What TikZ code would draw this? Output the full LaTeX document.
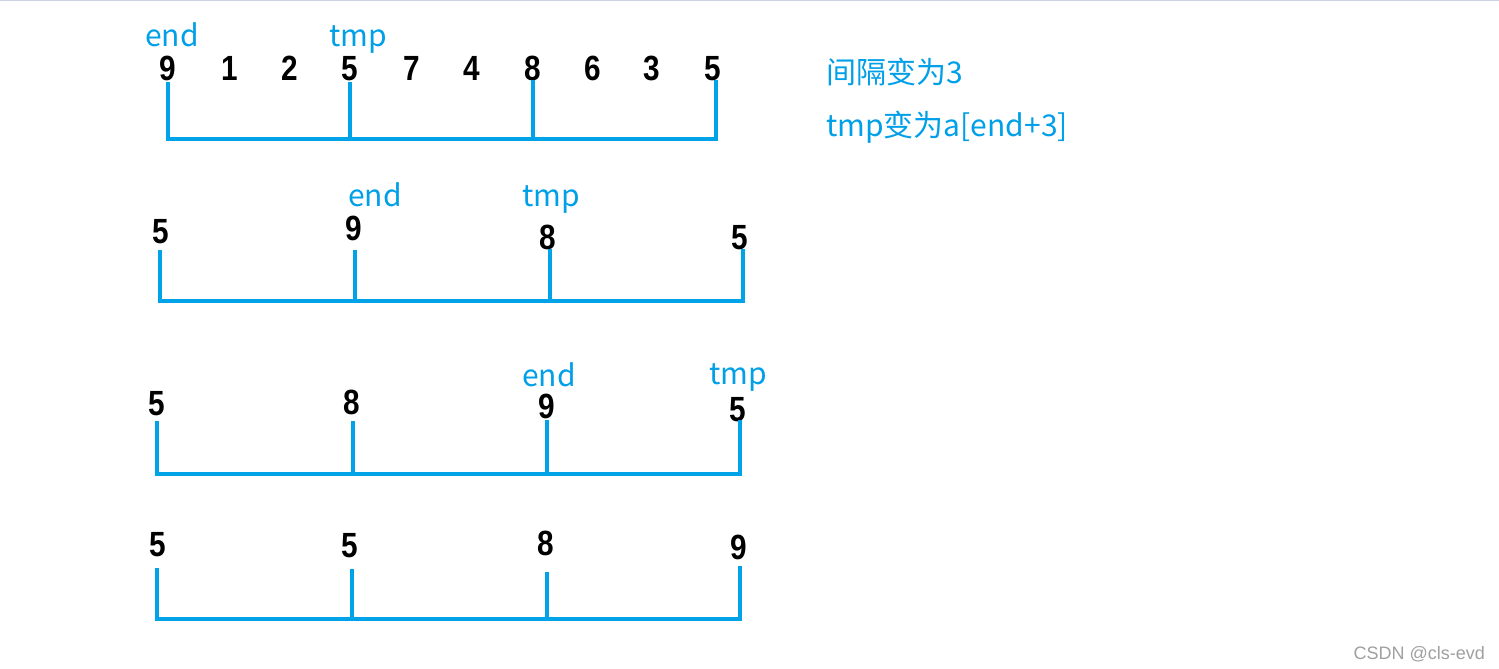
\documentclass[tikz,border=0pt]{standalone}
\usepackage{fontspec}
\newfontfamily\digf{Liberation Sans}[FakeStretch=0.85]
\newfontfamily\cjk{Noto Sans CJK SC}
\newfontfamily\wmf{Liberation Sans}
\definecolor{pblue}{RGB}{0,162,232}
\definecolor{lblue}{RGB}{0,160,232}
\definecolor{topline}{RGB}{200,212,228}
\definecolor{wmgray}{RGB}{160,160,160}
\begin{document}
\begin{tikzpicture}[x=1pt,y=-1pt,
  dig/.style={anchor=base,inner sep=0pt,font=\digf\bfseries\fontsize{35}{35}\selectfont},
  lab/.style={anchor=base,inner sep=0pt,text=lblue,font=\cjk\fontsize{30}{30}\selectfont},
  bar/.style={draw=pblue,line width=4pt,line join=miter},
]
\useasboundingbox (0,0) rectangle (1499,669);
\fill[white] (0,0) rectangle (1499,669);
\coordinate (tl) at (0,0.75);
\coordinate (tr) at (1499,0.75);
\draw[topline,line width=1.5pt] (tl) -- (tr);

% ---------- row 1 ----------
\foreach \n/\x/\v in {1/168/9,2/230/1,3/290/2,4/350/5,5/412/7,6/472/4,7/533/8,8/593/6,9/652/3,10/713/5}
  \node[dig] (a\n) at (\x,81) {\v};
\node[lab] (aend) at (172,47) {end};
\node[lab] (atmp) at (358,47) {tmp};
\coordinate (a1t) at (168,82);  \coordinate (a1b) at (168,139);
\coordinate (a4t) at (350,82);  \coordinate (a4b) at (350,139);
\coordinate (a7t) at (533,80);  \coordinate (a7b) at (533,139);
\coordinate (a10t) at (716,80); \coordinate (a10b) at (716,139);
\draw[bar] (a1t) -- (a1b) -- (a10b) -- (a10t);
\draw[bar] (a4t) -- (a4b);
\draw[bar] (a7t) -- (a7b);

% ---------- right text ----------
\node[lab,anchor=base west] (t1) at (826,84) {间隔变为3};
\node[lab,anchor=base west] (t2) at (826,136) {tmp变为a[end+3]};

% ---------- row 2 ----------
\node[dig] (b1) at (161,243) {5};
\node[dig] (b2) at (354,240) {9};
\node[dig] (b3) at (548,249) {8};
\node[dig] (b4) at (740,249) {5};
\node[lab] (bend) at (375,206) {end};
\node[lab] (btmp) at (551,206) {tmp};
\coordinate (b1t) at (160,250); \coordinate (b1b) at (160,301);
\coordinate (b2t) at (355,250); \coordinate (b2b) at (355,301);
\coordinate (b3t) at (550,249); \coordinate (b3b) at (550,301);
\coordinate (b4t) at (743,249); \coordinate (b4b) at (743,301);
\draw[bar] (b1t) -- (b1b) -- (b4b) -- (b4t);
\draw[bar] (b2t) -- (b2b);
\draw[bar] (b3t) -- (b3b);

% ---------- row 3 ----------
\node[dig] (c1) at (157,415) {5};
\node[dig] (c2) at (352,414) {8};
\node[dig] (c3) at (547,418) {9};
\node[dig] (c4) at (738,421) {5};
\node[lab] (cend) at (549,386) {end};
\node[lab] (ctmp) at (738,384) {tmp};
\coordinate (c1t) at (157,421); \coordinate (c1b) at (157,474);
\coordinate (c2t) at (353,421); \coordinate (c2b) at (353,474);
\coordinate (c3t) at (547,420); \coordinate (c3b) at (547,474);
\coordinate (c4t) at (740,420); \coordinate (c4b) at (740,474);
\draw[bar] (c1t) -- (c1b) -- (c4b) -- (c4t);
\draw[bar] (c2t) -- (c2b);
\draw[bar] (c3t) -- (c3b);

% ---------- row 4 ----------
\node[dig] (d1) at (158,556) {5};
\node[dig] (d2) at (350,557) {5};
\node[dig] (d3) at (546,555) {8};
\node[dig] (d4) at (739,559) {9};
\coordinate (d1t) at (157,568); \coordinate (d1b) at (157,619);
\coordinate (d2t) at (352,569); \coordinate (d2b) at (352,619);
\coordinate (d3t) at (547,572); \coordinate (d3b) at (547,619);
\coordinate (d4t) at (740,566); \coordinate (d4b) at (740,619);
\draw[bar] (d1t) -- (d1b) -- (d4b) -- (d4t);
\draw[bar] (d2t) -- (d2b);
\draw[bar] (d3t) -- (d3b);

% ---------- watermark ----------
\node[anchor=base east,inner sep=0pt,text=wmgray,font=\wmf\fontsize{18}{18}\selectfont] (wm) at (1485,659) {CSDN @cls-evd};
\end{tikzpicture}
\end{document}
